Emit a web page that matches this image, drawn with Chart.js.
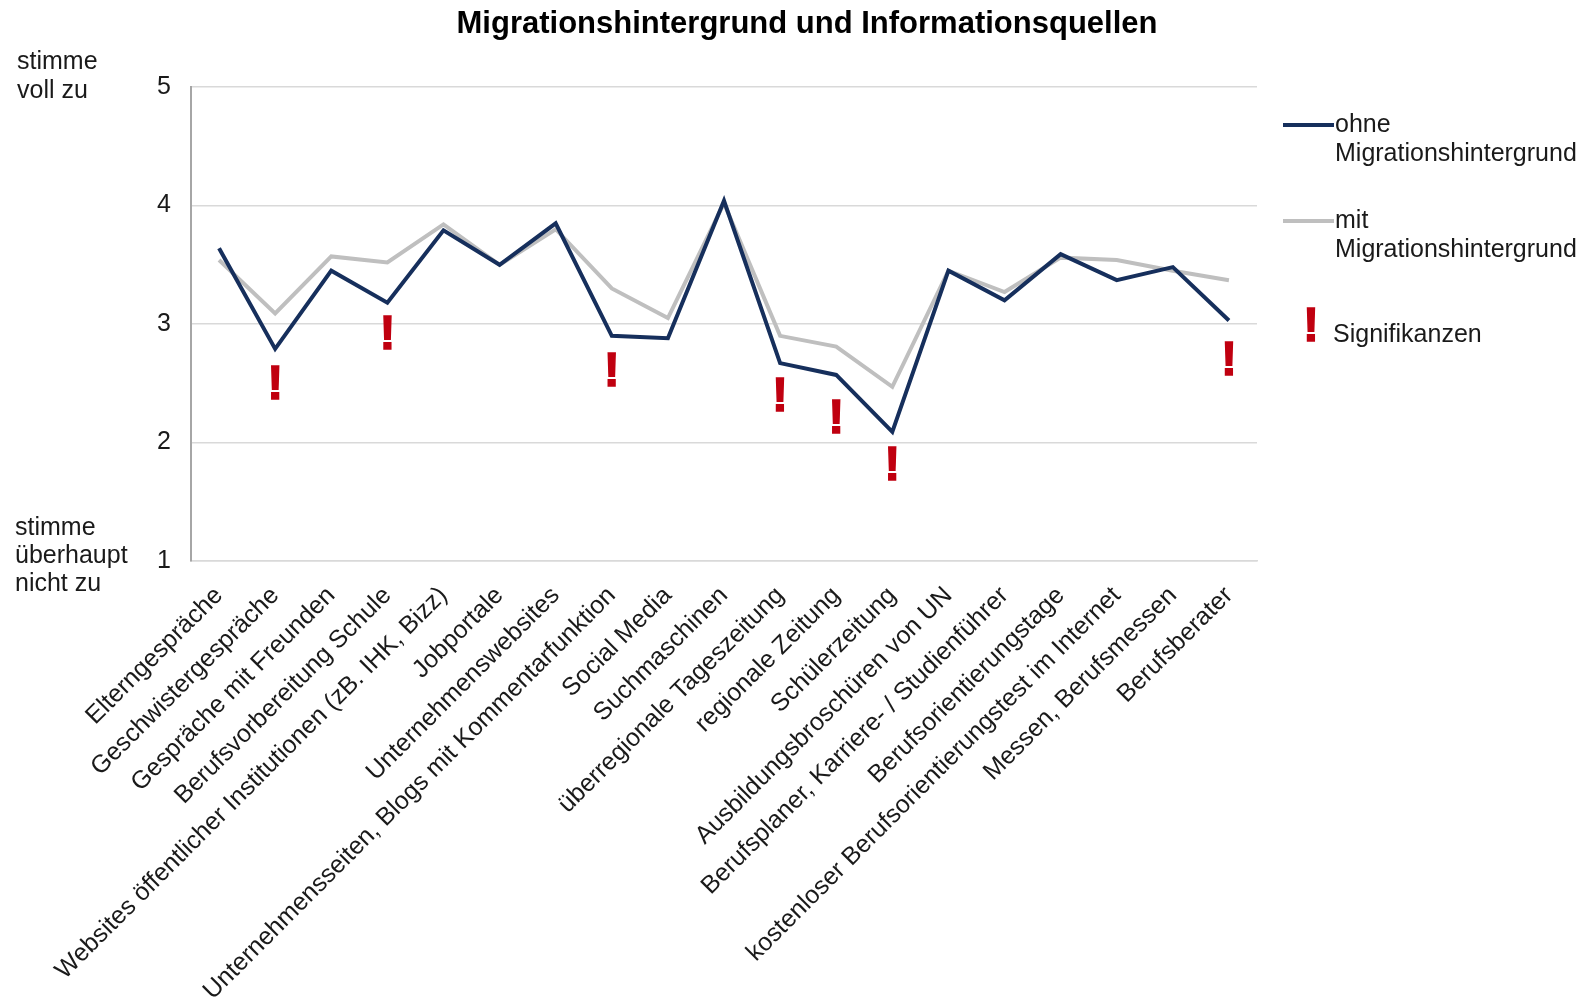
<!DOCTYPE html>
<html>
<head>
<meta charset="utf-8">
<script src="https://cdn.jsdelivr.net/npm/chart.js@4"></script>
<style>
  html, body { margin: 0; padding: 0; background: #fff; }
  #wrap { width: 1588px; height: 1004px; position: relative; }
</style>
</head>
<body>
<div id="wrap"><canvas id="chart"></canvas></div>
<script>
// data
const categories = [
    'Elterngespräche',
    'Geschwistergespräche',
    'Gespräche mit Freunden',
    'Berufsvorbereitung Schule',
    'Websites öffentlicher Institutionen (zB. IHK, Bizz)',
    'Jobportale',
    'Unternehmenswebsites',
    'Unternehmensseiten, Blogs mit Kommentarfunktion',
    'Social Media',
    'Suchmaschinen',
    'überregionale Tageszeitung',
    'regionale Zeitung',
    'Schülerzeitung',
    'Ausbildungsbroschüren von UN',
    'Berufsplaner, Karriere- / Studienführer',
    'Berufsorientierungstage',
    'kostenloser Berufsorientierungstest im Internet',
    'Messen, Berufsmessen',
    'Berufsberater'
];
const ohneMigration = [3.64, 2.79, 3.45, 3.18, 3.79, 3.50, 3.85, 2.90, 2.88, 4.04, 2.67, 2.57, 2.09, 3.45, 3.20, 3.59, 3.37, 3.48, 3.03];
const mitMigration  = [3.54, 3.09, 3.57, 3.52, 3.84, 3.50, 3.80, 3.30, 3.05, 4.02, 2.90, 2.81, 2.47, 3.45, 3.27, 3.56, 3.54, 3.45, 3.37];
// significance marks: category index and the scale value where the mark's foot sits
const sigIndex = [1, 3, 7, 10, 11, 12, 18];
const sigLevel = [2.37, 2.79, 2.48, 2.27, 2.08, 1.68, 2.57];
const yTicks = [1, 2, 3, 4, 5];

const FONT = '"Liberation Sans", Arial, sans-serif';
const NAVY = '#162f5c';
const GREY = '#bfbfbf';
const RED = '#c00010';
const TEXT = '#1a1a1a';

const drawBang = (ctx, x, y) => {
    ctx.font = `bold 48px ${FONT}`;
    ctx.textAlign = 'center';
    ctx.textBaseline = 'alphabetic';
    ctx.lineWidth = 1.5;
    ctx.strokeStyle = RED;
    ctx.fillStyle = RED;
    ctx.fillText('!', x, y);
    ctx.strokeText('!', x, y);
};

const sigMarks = {
    id: 'sigMarks',
    afterDatasetsDraw(chart) {
        const { ctx, scales: { x, y } } = chart;
        ctx.save();
        sigIndex.forEach((idx, i) => {
            drawBang(ctx, x.getPixelForValue(idx), y.getPixelForValue(sigLevel[i]));
        });
        ctx.restore();
    }
};

const extras = {
    id: 'extras',
    afterDraw(chart) {
        const ctx = chart.ctx;
        ctx.save();
        ctx.fillStyle = '#000';
        ctx.textBaseline = 'middle';

        // title
        ctx.font = `bold 31px ${FONT}`;
        ctx.textAlign = 'center';
        ctx.fillText('Migrationshintergrund und Informationsquellen', 807, 24);

        // scale descriptions on the left
        ctx.font = `25px ${FONT}`;
        ctx.fillStyle = TEXT;
        ctx.textAlign = 'left';
        ctx.fillText('stimme', 17, 62);
        ctx.fillText('voll zu', 17, 91);
        ctx.fillText('stimme', 15, 528);
        ctx.fillText('überhaupt', 15, 556);
        ctx.fillText('nicht zu', 15, 584);

        // legend
        const items = [
            { color: NAVY, lines: ['ohne', 'Migrationshintergrund'], y: 125 },
            { color: GREY, lines: ['mit', 'Migrationshintergrund'], y: 221 }
        ];
        items.forEach(it => {
            ctx.strokeStyle = it.color;
            ctx.lineWidth = 4;
            ctx.beginPath();
            ctx.moveTo(1283, it.y);
            ctx.lineTo(1334, it.y);
            ctx.stroke();
            it.lines.forEach((t, i) => ctx.fillText(t, 1335, it.y + i * 29));
        });
        drawBang(ctx, 1311, 341);
        ctx.fillStyle = TEXT;
        ctx.font = `25px ${FONT}`;
        ctx.textAlign = 'left';
        ctx.textBaseline = 'middle';
        ctx.fillText('Signifikanzen', 1333, 335);
        ctx.restore();
    }
};

new Chart(document.getElementById('chart').getContext('2d'), {
    type: 'line',
    data: {
        labels: categories,
        datasets: [
            {
                label: 'ohne Migrationshintergrund',
                data: ohneMigration,
                borderColor: NAVY,
                borderWidth: 4,
                borderJoinStyle: 'miter',
                pointRadius: 0,
                tension: 0,
                fill: false
            },
            {
                label: 'mit Migrationshintergrund',
                data: mitMigration,
                borderColor: GREY,
                borderWidth: 4,
                borderJoinStyle: 'miter',
                pointRadius: 0,
                tension: 0,
                fill: false
            }
        ]
    },
    options: {
        responsive: true,
        maintainAspectRatio: false,
        animation: false,
        layout: { padding: { top: 87, right: 331, left: 0, bottom: 0 } },
        plugins: {
            legend: { display: false },
            tooltip: { enabled: false },
            title: { display: false }
        },
        scales: {
            x: {
                offset: true,
                afterFit: s => { s.height = 443; },
                grid: { display: false, drawTicks: false },
                border: { display: true, color: '#d9d9d9', width: 1.5 },
                ticks: {
                    autoSkip: false,
                    minRotation: 45,
                    maxRotation: 45,
                    padding: 20,
                    color: TEXT,
                    font: { family: FONT, size: 25 }
                }
            },
            y: {
                min: 1,
                max: 5,
                afterFit: s => { s.width = 191; },
                afterBuildTicks: s => { s.ticks = yTicks.map(v => ({ value: v })); },
                grid: { color: '#d9d9d9', lineWidth: 1.5, drawTicks: false },
                border: { display: true, color: '#a6a6a6', width: 2 },
                ticks: {
                    padding: 20,
                    color: TEXT,
                    font: { family: FONT, size: 25 }
                }
            }
        }
    },
    plugins: [sigMarks, extras]
});
</script>
</body>
</html>
